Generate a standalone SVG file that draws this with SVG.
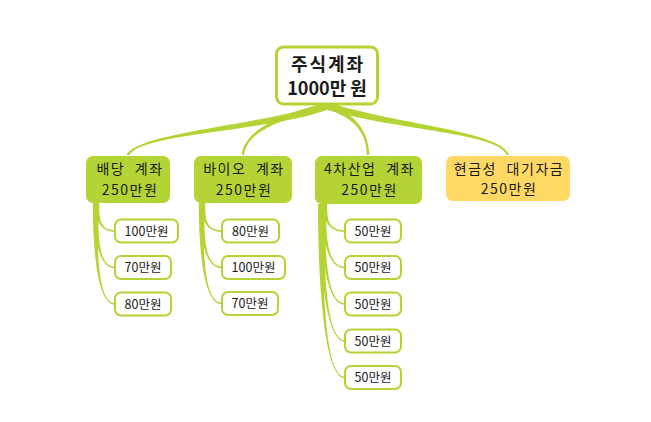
<svg xmlns="http://www.w3.org/2000/svg" width="651" height="422" viewBox="0 0 651 422">
<style>
.t{font-family:"Noto Sans CJK KR","Noto Sans",sans-serif;text-anchor:middle;fill:#1a1a1a}
.root{fill:#fff;stroke:#b4d334;stroke-width:3}
.l1{fill:#b4d334}
.cash{fill:#ffd964}
.leaf{fill:#fff;stroke:#b4d334;stroke-width:2}
.c{fill:#b4d334}
.f1{font-size:14px;letter-spacing:1.5px;word-spacing:5px}
.f2{font-size:12.5px}
.f0{font-size:18px;font-weight:bold}
</style>
<rect width="651" height="422" fill="#fff"/>
<g id="connectors">
<path class="c" d="M328.3,109.6 C271,131 141.2,132.8 129.4,155 L126.6,155 C138.8,131.2 269,125 325.7,102.4Z"/>
<path class="c" d="M327.6,108.9 C285.5,117.5 246.2,130.3 244.2,155 L241.8,155 C243.8,129.7 284.5,112.5 326.4,103.1Z"/>
<path class="c" d="M326,108.9 C344.2,114.5 366.8,125.3 366.8,155 L369.2,155 C369.2,124.7 345.8,109.5 328,103.2Z"/>
<path class="c" d="M326,109.4 C399.2,130.8 498.8,132.6 506.8,155 L509.2,155 C501.2,131.4 400.8,125.2 328,102.6Z"/>
<path class="c" d="M94.8,203 C94.8,217 99,231.8 115,231.8 L115,230.2 C99,230.2 99.2,217 99.2,203Z"/>
<path class="c" d="M93.8,203 C93.8,235.3 98,268.3 115,268.3 L115,266.7 C98,266.7 98.2,235.3 98.2,203Z"/>
<path class="c" d="M92.8,203 C92.8,253.5 98,304.8 115,304.8 L115,303.2 C98,303.2 97.2,253.5 97.2,203Z"/>
<path class="c" d="M200.8,203 C200.8,217 205,231.8 222,231.8 L222,230.2 C205,230.2 205.2,217 205.2,203Z"/>
<path class="c" d="M199.8,203 C199.8,235.3 204,268.3 222,268.3 L222,266.7 C204,266.7 204.2,235.3 204.2,203Z"/>
<path class="c" d="M198.8,203 C198.8,253.3 204,304.3 222,304.3 L222,302.7 C204,302.7 203.2,253.3 203.2,203Z"/>
<path class="c" d="M322.8,204 C322.8,217.5 327,231.8 345,231.8 L345,230.2 C327,230.2 327.2,217.5 327.2,204Z"/>
<path class="c" d="M321.6,204 C321.6,235.8 326.8,268.3 345,268.3 L345,266.7 C326.8,266.7 326,235.8 326,204Z"/>
<path class="c" d="M320.4,204 C320.4,254 326.6,304.8 345,304.8 L345,303.2 C326.6,303.2 324.8,254 324.8,204Z"/>
<path class="c" d="M319.2,204 C319.2,272.5 326.4,341.8 345,341.8 L345,340.2 C326.4,340.2 323.6,272.5 323.6,204Z"/>
<path class="c" d="M318,204 C318,290.8 325.2,378.3 345,378.3 L345,376.7 C325.2,376.7 322.4,290.8 322.4,204Z"/>
</g>
<g id="root">
<rect class="root" x="276.5" y="47" width="101" height="57" rx="7"/>
<text class="t f0" x="328" y="71" letter-spacing="2">주식계좌</text>
<text class="t f0" x="327" y="95">1000만 원</text>
</g>
<g id="n-dividend">
<rect class="l1" x="86" y="156" width="84" height="47" rx="7"/>
<text class="t f1" x="130" y="174">배당 계좌</text>
<text class="t f1" x="130" y="195">250만원</text>
</g>
<g id="n-bio">
<rect class="l1" x="194" y="156" width="98" height="47" rx="7"/>
<text class="t f1" x="244" y="174">바이오 계좌</text>
<text class="t f1" x="244" y="195">250만원</text>
</g>
<g id="n-industry4">
<rect class="l1" x="315" y="156" width="107" height="48" rx="7"/>
<text class="t f1" x="369.5" y="174">4차산업 계좌</text>
<text class="t f1" x="369.5" y="195">250만원</text>
</g>
<g id="n-cash">
<rect class="cash" x="446" y="156" width="124" height="45" rx="7"/>
<text class="t f1" x="509" y="174">현금성 대기자금</text>
<text class="t f1" x="509" y="194">250만원</text>
</g>
<g id="n-d1"><rect class="leaf" x="115" y="219.5" width="63" height="23" rx="6"/><text class="t f2" x="146.5" y="235.5">100만원</text></g>
<g id="n-d2"><rect class="leaf" x="115" y="256" width="56" height="23" rx="6"/><text class="t f2" x="143" y="272">70만원</text></g>
<g id="n-d3"><rect class="leaf" x="115" y="292.5" width="56" height="23" rx="6"/><text class="t f2" x="143" y="308.5">80만원</text></g>
<g id="n-b1"><rect class="leaf" x="222" y="219.5" width="57" height="23" rx="6"/><text class="t f2" x="250.5" y="235.5">80만원</text></g>
<g id="n-b2"><rect class="leaf" x="222" y="256" width="63" height="23" rx="6"/><text class="t f2" x="253.5" y="272">100만원</text></g>
<g id="n-b3"><rect class="leaf" x="222" y="292" width="56" height="23" rx="6"/><text class="t f2" x="250" y="308">70만원</text></g>
<g id="n-i1"><rect class="leaf" x="345" y="219.5" width="56" height="23" rx="6"/><text class="t f2" x="373" y="235.5">50만원</text></g>
<g id="n-i2"><rect class="leaf" x="345" y="256" width="56" height="23" rx="6"/><text class="t f2" x="373" y="272">50만원</text></g>
<g id="n-i3"><rect class="leaf" x="345" y="292.5" width="56" height="23" rx="6"/><text class="t f2" x="373" y="308.5">50만원</text></g>
<g id="n-i4"><rect class="leaf" x="345" y="329.5" width="56" height="23" rx="6"/><text class="t f2" x="373" y="345.5">50만원</text></g>
<g id="n-i5"><rect class="leaf" x="345" y="366" width="56" height="23" rx="6"/><text class="t f2" x="373" y="382">50만원</text></g>
</svg>
